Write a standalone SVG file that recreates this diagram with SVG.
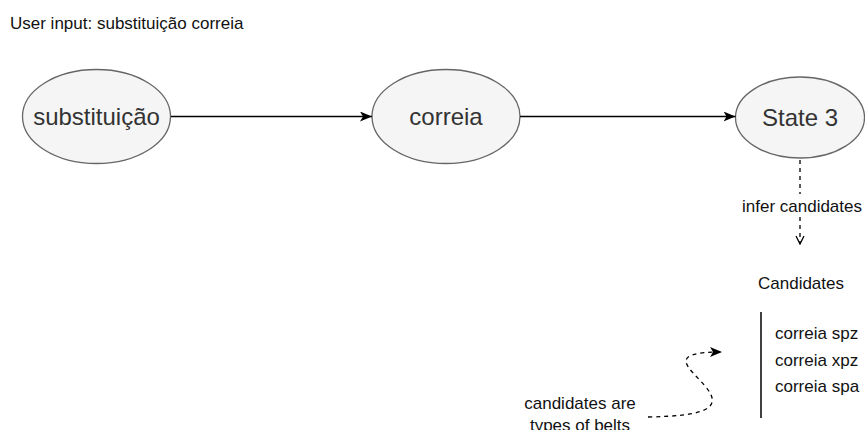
<svg xmlns="http://www.w3.org/2000/svg" width="865" height="430" viewBox="0 0 865 430">
  <defs>
    <marker id="arrFilled" viewBox="0 0 12 10" markerWidth="12" markerHeight="10" refX="12" refY="5" orient="auto" markerUnits="userSpaceOnUse">
      <path d="M0,0 L12,5 L0,10 L3,5 z" fill="#000"/>
    </marker>
    <marker id="arrOpen" viewBox="0 0 10 10" markerWidth="10" markerHeight="10" refX="9" refY="5" orient="auto" markerUnits="userSpaceOnUse">
      <path d="M1,1 L9,5 L1,9" fill="none" stroke="#000" stroke-width="1.3"/>
    </marker>
  </defs>
  <style>
    .node ellipse { fill: #f5f5f5; stroke: #666666; stroke-width: 1.3; }
    .big { font-family: "Liberation Sans", Arial, sans-serif; font-size: 24px; fill: #333333; text-anchor: middle; }
    .lbl { font-family: "Liberation Sans", Arial, sans-serif; font-size: 17px; fill: #111111; }
    .mid { text-anchor: middle; }
    .edge { fill: none; stroke: #000; stroke-width: 1.3; }
    .dash { stroke-dasharray: 4 4; }
  </style>
  <rect width="865" height="430" fill="#ffffff"/>

  <text class="lbl" x="10" y="29">User input: substituição correia</text>

  <g id="node-substituicao" class="node">
    <ellipse cx="96.5" cy="116.5" rx="74" ry="47"/>
    <text class="big" x="96.5" y="125">substituição</text>
  </g>
  <g id="node-correia" class="node">
    <ellipse cx="446" cy="116.5" rx="74" ry="47"/>
    <text class="big" x="446" y="125">correia</text>
  </g>
  <g id="node-state3" class="node">
    <ellipse cx="800" cy="117.5" rx="64.5" ry="40.5"/>
    <text class="big" x="800" y="126">State 3</text>
  </g>

  <g id="node-candidates">
    <text class="lbl mid" x="801" y="289">Candidates</text>
    <line x1="761" y1="312" x2="761" y2="418" stroke="#000" stroke-width="1.5"/>
    <text class="lbl" x="775" y="339">correia spz</text>
    <text class="lbl" x="775" y="366">correia xpz</text>
    <text class="lbl" x="775" y="392">correia spa</text>
  </g>

  <g id="node-note">
    <text class="lbl mid" x="580" y="409">candidates are</text>
    <text class="lbl mid" x="580" y="431">types of belts</text>
  </g>

  <g id="connectors">
    <line class="edge" x1="171" y1="116.5" x2="372" y2="116.5" marker-end="url(#arrFilled)"/>
    <line class="edge" x1="520" y1="116.5" x2="735.5" y2="116.5" marker-end="url(#arrFilled)"/>
    <line class="edge dash" x1="800" y1="160" x2="800" y2="194"/>
    <text class="lbl mid" x="802" y="212">infer candidates</text>
    <line class="edge dash" x1="800" y1="217" x2="800" y2="244" marker-end="url(#arrOpen)"/>
    <path class="edge dash" d="M648,417 C700,416 726,410 705,386 C690,368 664,352 722,352" marker-end="url(#arrFilled)"/>
  </g>
</svg>
